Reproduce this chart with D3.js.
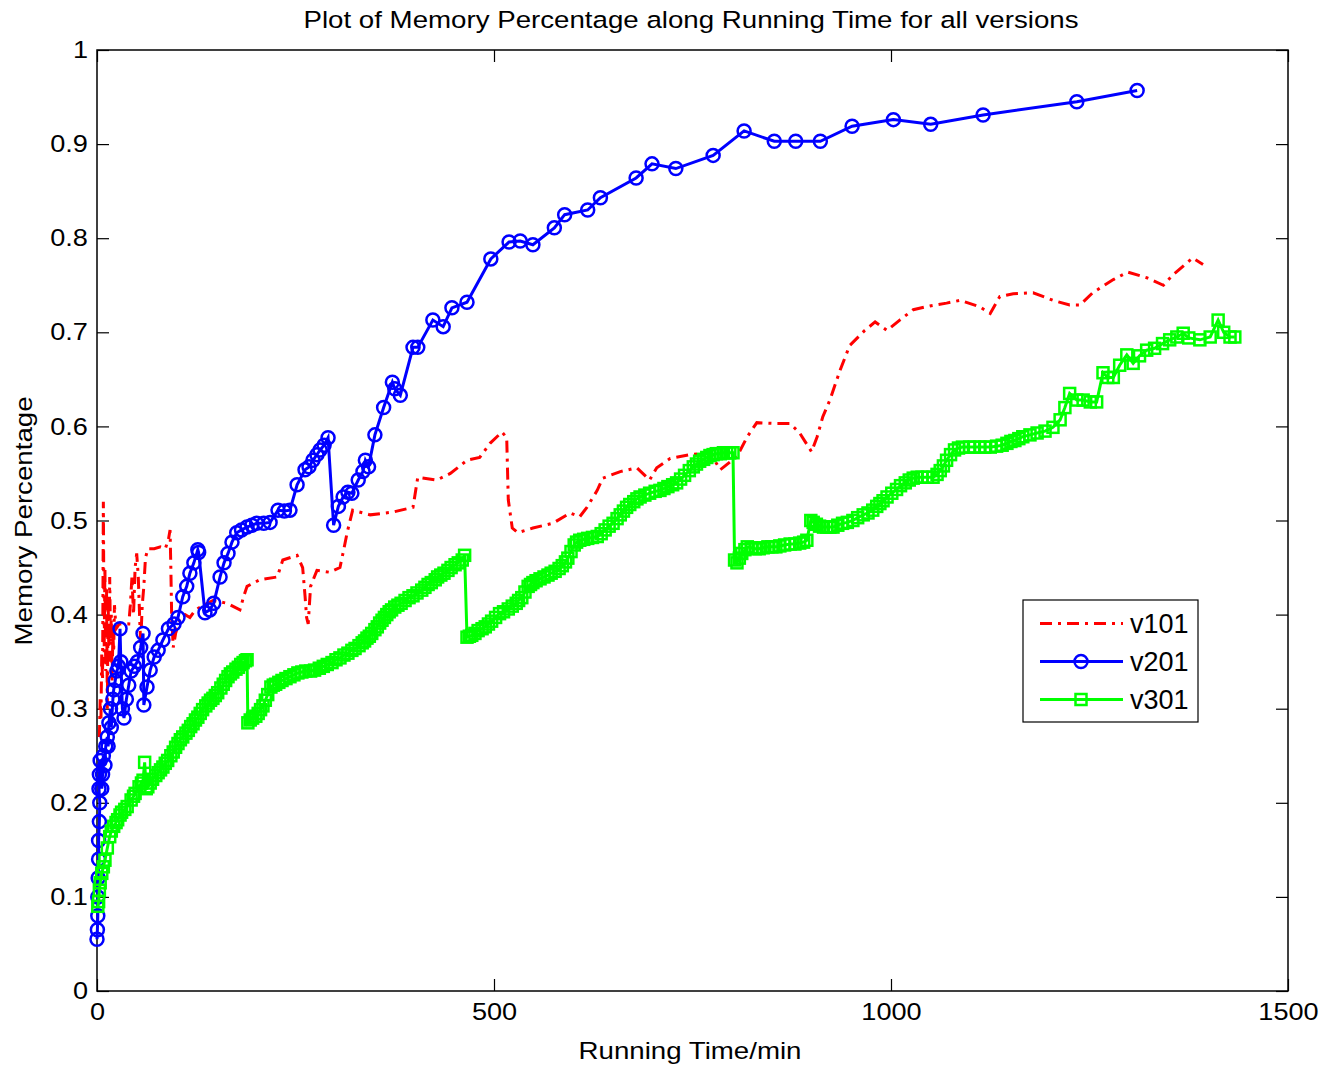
<!DOCTYPE html>
<html>
<head>
<meta charset="utf-8">
<script src="https://d3js.org/d3.v7.min.js"></script>
<style>
  body { margin: 0; background: #fff; }
  text { font-family: "Liberation Sans", Arial, Helvetica, sans-serif; fill: #000; }
</style>
</head>
<body>
<div id="chart"></div>
<script>
// data: [minutes, memory fraction]
const v101 = [
  [3,0.27],[4,0.31],[5,0.29],[6,0.36],[7,0.33],[8,0.52],[9,0.36],[10,0.45],[11,0.34],[12,0.43],
  [13,0.30],[14,0.42],[15,0.35],[16,0.44],[17,0.37],[18,0.40],[19,0.33],[20,0.38],[21,0.36],[22,0.41],
  [24,0.385],[28,0.39],[34,0.39],[40,0.39],[42,0.41],[44,0.44],[46,0.40],[48,0.45],[50,0.465],[52,0.44],
  [54,0.39],[55,0.37],[57,0.41],[59,0.43],[61,0.46],[64,0.47],[72,0.47],[80,0.472],[86,0.47],
  [90,0.48],[92,0.49],[93,0.45],[94,0.40],[96,0.365],[99,0.38],[104,0.394],[111,0.40],[117,0.397],
  [124,0.405],[130,0.408],[146,0.415],[164,0.412],[180,0.405],[185,0.42],[189,0.43],[205,0.437],
  [227,0.44],[234,0.458],[252,0.463],[259,0.45],[262,0.42],[264,0.397],[266,0.39],[269,0.43],
  [277,0.447],[293,0.445],[306,0.45],[311,0.47],[315,0.487],[322,0.511],[344,0.506],[373,0.509],
  [398,0.514],[404,0.546],[428,0.543],[445,0.55],[466,0.564],[482,0.567],[495,0.582],[510,0.594],
  [516,0.588],[518,0.522],[523,0.492],[530,0.487],[549,0.492],[574,0.497],[596,0.508],[608,0.504],
  [617,0.514],[630,0.532],[637,0.545],[659,0.552],[680,0.556],[696,0.543],[705,0.556],[722,0.566],
  [747,0.57],[772,0.572],[785,0.554],[806,0.568],[819,0.589],[831,0.604],[856,0.603],[873,0.603],
  [885,0.593],[900,0.573],[907,0.589],[914,0.61],[923,0.628],[936,0.66],[948,0.686],[967,0.702],
  [980,0.711],[995,0.702],[1011,0.713],[1028,0.724],[1049,0.728],[1070,0.731],[1087,0.734],
  [1112,0.727],[1125,0.72],[1137,0.738],[1154,0.741],[1179,0.742],[1204,0.734],[1225,0.729],
  [1238,0.729],[1254,0.742],[1280,0.756],[1298,0.764],[1322,0.758],[1343,0.75],[1355,0.761],
  [1373,0.774],[1380,0.779],[1393,0.772]
];

const v201 = [
  [0,0.055],[0.5,0.065],[1,0.08],[1,0.1],[1.5,0.12],[2,0.14],[2,0.16],[3,0.18],[3.5,0.2],[2.5,0.215],
  [3,0.23],[4,0.245],[6,0.215],[7,0.23],[8,0.25],[10,0.24],[11,0.26],[13,0.27],[14,0.26],[15,0.285],
  [17,0.3],[18,0.28],[20,0.31],[21,0.32],[23,0.33],[25,0.34],[27,0.345],[29,0.385],[30,0.35],[32,0.3],
  [34,0.29],[37,0.31],[40,0.325],[43,0.34],[47,0.345],[51,0.35],[55,0.365],[58,0.38],[59,0.304],
  [63,0.323],[67,0.341],[72,0.355],[77,0.362],[83,0.373],[90,0.385],[97,0.39],[102,0.397],[108,0.419],
  [113,0.43],[117,0.444],[122,0.455],[127,0.469],[128,0.466],[136,0.402],[142,0.405],[147,0.412],
  [155,0.44],[160,0.455],[165,0.465],[170,0.477],[176,0.487],[182,0.49],[189,0.493],[195,0.495],
  [201,0.497],[210,0.497],[218,0.498],[228,0.511],[236,0.51],[243,0.511],[252,0.538],[262,0.554],
  [267,0.557],[272,0.564],[277,0.57],[281,0.575],[286,0.58],[291,0.588],[298,0.495],[304,0.515],
  [310,0.525],[316,0.53],[321,0.529],[329,0.543],[335,0.552],[338,0.564],[342,0.557],[350,0.591],
  [361,0.62],[372,0.647],[375,0.64],[382,0.633],[398,0.684],[404,0.684],[423,0.713],[436,0.706],
  [447,0.726],[466,0.732],[496,0.778],[519,0.796],[533,0.797],[549,0.793],[576,0.811],[589,0.825],
  [618,0.83],[634,0.843],[679,0.864],[699,0.879],[729,0.874],[776,0.888],[815,0.914],[853,0.903],
  [880,0.903],[911,0.903],[951,0.919],[1003,0.926],[1050,0.921],[1116,0.931],[1234,0.945],[1310,0.957]
];

const v301 = [
  [1,0.09],[2,0.095],[3,0.107],[4,0.115],[6,0.125],[8,0.132],[10,0.139],[13,0.152],[16,0.164],
  [18,0.17],[21,0.175],[24,0.179],[26,0.182],[29,0.187],[31,0.19],[35,0.193],[38,0.196],[43,0.203],
  [46,0.207],[48,0.21],[53,0.217],[56,0.221],[58,0.224],[60,0.243],[62,0.215],[64,0.217],[67,0.221],
  [70,0.225],[74,0.229],[77,0.232],[80,0.235],[83,0.238],[86,0.242],[89,0.245],[93,0.25],[96,0.254],
  [99,0.259],[102,0.263],[105,0.267],[108,0.27],[112,0.274],[115,0.277],[118,0.281],[121,0.284],
  [124,0.288],[127,0.291],[130,0.295],[133,0.299],[137,0.303],[140,0.306],[143,0.309],[146,0.311],
  [149,0.314],[152,0.317],[156,0.322],[159,0.326],[162,0.33],[165,0.334],[168,0.337],[171,0.339],
  [175,0.342],[178,0.344],[181,0.347],[184,0.349],[187,0.351],[189,0.352],[190,0.285],[193,0.288],
  [196,0.29],[200,0.292],[203,0.295],[206,0.299],[209,0.303],[212,0.309],[215,0.315],[219,0.323],
  [222,0.325],[225,0.326],[229,0.328],[233,0.33],[238,0.332],[243,0.334],[248,0.336],[253,0.338],
  [258,0.339],[263,0.34],[269,0.34],[274,0.341],[280,0.343],[285,0.345],[290,0.347],[296,0.349],
  [301,0.352],[306,0.354],[311,0.357],[316,0.359],[321,0.362],[325,0.364],[330,0.367],[334,0.37],
  [337,0.372],[340,0.375],[343,0.377],[346,0.38],[350,0.384],[353,0.387],[356,0.391],[359,0.394],
  [362,0.397],[365,0.4],[368,0.403],[371,0.405],[375,0.408],[379,0.41],[383,0.412],[388,0.415],
  [393,0.418],[398,0.42],[403,0.423],[409,0.426],[413,0.429],[417,0.432],[421,0.434],[426,0.437],
  [429,0.44],[433,0.442],[437,0.444],[442,0.447],[446,0.45],[451,0.453],[455,0.455],[460,0.458],
  [463,0.463],[466,0.376],[469,0.377],[472,0.378],[476,0.38],[480,0.383],[485,0.385],[489,0.387],
  [493,0.39],[497,0.393],[502,0.397],[507,0.401],[512,0.403],[518,0.406],[523,0.409],[528,0.412],
  [531,0.415],[535,0.418],[539,0.424],[543,0.43],[546,0.432],[549,0.434],[553,0.436],[558,0.438],
  [563,0.44],[568,0.442],[572,0.444],[577,0.446],[582,0.449],[586,0.452],[590,0.456],[593,0.46],
  [597,0.467],[601,0.474],[604,0.477],[608,0.479],[613,0.48],[618,0.481],[624,0.482],[630,0.483],
  [635,0.486],[640,0.49],[645,0.494],[650,0.497],[655,0.502],[659,0.506],[663,0.51],[667,0.514],
  [671,0.517],[676,0.52],[680,0.523],[684,0.525],[690,0.527],[696,0.529],[703,0.531],[709,0.532],
  [714,0.534],[719,0.536],[725,0.538],[730,0.54],[735,0.544],[740,0.548],[746,0.553],[751,0.557],
  [755,0.56],[759,0.563],[764,0.565],[768,0.567],[772,0.569],[776,0.57],[780,0.571],[785,0.571],
  [789,0.572],[793,0.572],[797,0.572],[801,0.572],[803,0.458],[806,0.455],[809,0.46],[812,0.465],
  [816,0.469],[819,0.472],[824,0.471],[829,0.47],[834,0.47],[839,0.471],[845,0.472],[850,0.472],
  [855,0.472],[860,0.473],[866,0.474],[873,0.475],[879,0.475],[885,0.476],[890,0.477],[894,0.479],
  [899,0.5],[902,0.498],[906,0.496],[910,0.494],[915,0.493],[919,0.493],[923,0.493],[927,0.493],
  [933,0.495],[939,0.497],[945,0.498],[952,0.5],[958,0.503],[965,0.506],[971,0.508],[977,0.511],
  [982,0.515],[986,0.518],[990,0.521],[995,0.525],[1001,0.529],[1007,0.533],[1012,0.537],[1018,0.54],
  [1023,0.543],[1028,0.545],[1033,0.546],[1039,0.546],[1046,0.546],[1053,0.546],[1058,0.549],
  [1062,0.553],[1066,0.558],[1070,0.564],[1075,0.57],[1080,0.575],[1085,0.577],[1090,0.578],
  [1099,0.578],[1105,0.578],[1112,0.578],[1118,0.578],[1125,0.578],[1133,0.579],[1140,0.58],
  [1146,0.582],[1151,0.584],[1156,0.585],[1161,0.587],[1166,0.589],[1175,0.591],[1184,0.593],
  [1194,0.595],[1204,0.599],[1213,0.607],[1219,0.62],[1225,0.635],[1234,0.628],[1242,0.628],
  [1251,0.626],[1259,0.626],[1267,0.657],[1273,0.652],[1280,0.652],[1288,0.665],[1297,0.676],
  [1305,0.667],[1313,0.675],[1322,0.681],[1332,0.683],[1342,0.688],[1351,0.692],[1360,0.695],
  [1368,0.699],[1375,0.694],[1389,0.692],[1402,0.695],[1412,0.713],[1419,0.7],[1427,0.695],[1433,0.695]
];

const xTicks = [0, 500, 1000, 1500];
const yTicks = [0, 0.1, 0.2, 0.3, 0.4, 0.5, 0.6, 0.7, 0.8, 0.9, 1];
const seriesNames = ["v101", "v201", "v301"];
const seriesColors = ["#ff0000", "#0000ff", "#00ff00"];

const width = 1323, height = 1067;
const plotLeft = 97, plotRight = 1288, plotTop = 50, plotBottom = 991;
// the original figure's text is a bit wider than Arial
const stretch = 1.13;

const svg = d3.select("#chart").append("svg")
    .attr("width", width)
    .attr("height", height);

const x = d3.scaleLinear().domain([0, 1500]).range([plotLeft, plotRight]);
const y = d3.scaleLinear().domain([0, 1]).range([plotBottom, plotTop]);
const fmt = d3.format("~g");

// axes, MATLAB style: ticks pointing in, box all round
function styleAxis(g, labels) {
    g.attr("font-family", null).attr("font-size", null);
    g.select(".domain").remove();
    g.selectAll(".tick line").attr("stroke", "#000").attr("stroke-width", 1.2);
    g.selectAll(".tick text")
        .style("font-size", "24px")
        .attr("fill", "#000")
        .attr("transform", `scale(${stretch},1)`);
    if (!labels) g.selectAll(".tick text").remove();
}

svg.append("g")
    .attr("transform", `translate(0,${plotBottom})`)
    .call(d3.axisBottom(x).tickValues(xTicks).tickFormat(fmt).tickSize(-12).tickPadding(12))
    .call(g => styleAxis(g, true));

svg.append("g")
    .attr("transform", `translate(0,${plotTop})`)
    .call(d3.axisTop(x).tickValues(xTicks).tickSize(-12))
    .call(g => styleAxis(g, false));

svg.append("g")
    .attr("transform", `translate(${plotLeft},0)`)
    .call(d3.axisLeft(y).tickValues(yTicks).tickFormat(fmt).tickSize(-12).tickPadding(8))
    .call(g => styleAxis(g, true));

svg.append("g")
    .attr("transform", `translate(${plotRight},0)`)
    .call(d3.axisRight(y).tickValues(yTicks).tickSize(-12))
    .call(g => styleAxis(g, false));

svg.append("rect")
    .attr("x", plotLeft).attr("y", plotTop)
    .attr("width", plotRight - plotLeft).attr("height", plotBottom - plotTop)
    .attr("fill", "none").attr("stroke", "#000").attr("stroke-width", 1.5);

const line = d3.line().x(d => x(d[0])).y(d => y(d[1]));
const plot = svg.append("g");

// v101 dash-dot
plot.append("path")
    .datum(v101)
    .attr("d", line)
    .attr("fill", "none")
    .attr("stroke", seriesColors[0])
    .attr("stroke-width", 3)
    .attr("stroke-dasharray", "12,6,3,6");

// v201 circles
plot.append("path")
    .datum(v201)
    .attr("d", line)
    .attr("fill", "none")
    .attr("stroke", seriesColors[1])
    .attr("stroke-width", 3);
plot.append("g").selectAll("circle")
    .data(v201)
    .enter().append("circle")
    .attr("cx", d => x(d[0]))
    .attr("cy", d => y(d[1]))
    .attr("r", 6.5)
    .attr("fill", "none")
    .attr("stroke", seriesColors[1])
    .attr("stroke-width", 2.5);

// v301 squares
plot.append("path")
    .datum(v301)
    .attr("d", line)
    .attr("fill", "none")
    .attr("stroke", seriesColors[2])
    .attr("stroke-width", 3);
plot.append("g").selectAll("rect")
    .data(v301)
    .enter().append("rect")
    .attr("x", d => x(d[0]) - 5.5)
    .attr("y", d => y(d[1]) - 5.5)
    .attr("width", 11)
    .attr("height", 11)
    .attr("fill", "none")
    .attr("stroke", seriesColors[2])
    .attr("stroke-width", 2.5);

// title and axis labels
svg.append("text")
    .attr("transform", `translate(691,28) scale(${stretch},1)`)
    .attr("text-anchor", "middle")
    .style("font-size", "24.5px")
    .text("Plot of Memory Percentage along Running Time for all versions");

svg.append("text")
    .attr("transform", `translate(690,1059) scale(${stretch},1)`)
    .attr("text-anchor", "middle")
    .style("font-size", "24.5px")
    .text("Running Time/min");

svg.append("text")
    .attr("transform", `translate(32,521) rotate(-90) scale(${stretch},1)`)
    .attr("text-anchor", "middle")
    .style("font-size", "24.5px")
    .text("Memory Percentage");

// legend
const legend = svg.append("g").attr("transform", "translate(1023,600)");
legend.append("rect")
    .attr("width", 175).attr("height", 122)
    .attr("fill", "#fff").attr("stroke", "#000").attr("stroke-width", 1.2);

seriesNames.forEach((name, i) => {
    const cy = 23.5 + i * 38;
    legend.append("line")
        .attr("x1", 17).attr("x2", 100)
        .attr("y1", cy).attr("y2", cy)
        .attr("stroke", seriesColors[i])
        .attr("stroke-width", 3)
        .attr("stroke-dasharray", i === 0 ? "12,6,3,6" : null);
    if (i === 1) {
        legend.append("circle")
            .attr("cx", 58).attr("cy", cy).attr("r", 6.5)
            .attr("fill", "none").attr("stroke", seriesColors[i]).attr("stroke-width", 2.5);
    }
    if (i === 2) {
        legend.append("rect")
            .attr("x", 52.5).attr("y", cy - 5.5).attr("width", 11).attr("height", 11)
            .attr("fill", "none").attr("stroke", seriesColors[i]).attr("stroke-width", 2.5);
    }
    legend.append("text")
        .attr("x", 107).attr("y", cy)
        .attr("dy", "0.36em")
        .style("font-size", "27px")
        .text(name);
});
</script>
</body>
</html>
